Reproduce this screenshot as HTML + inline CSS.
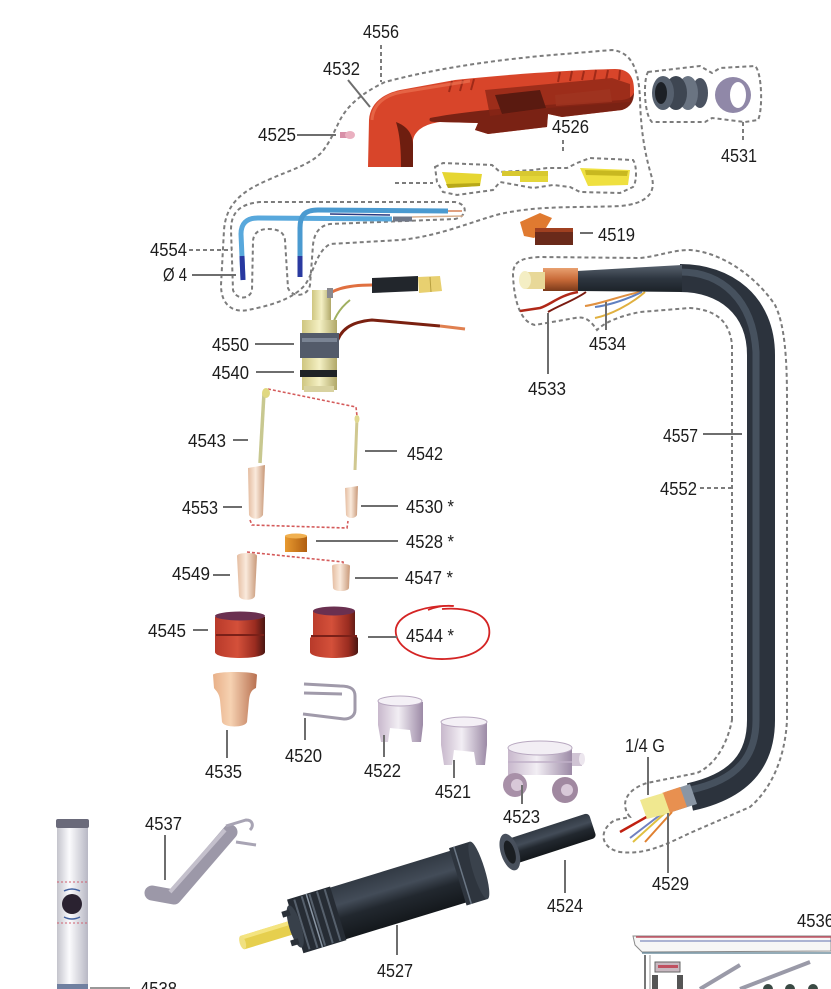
<!DOCTYPE html>
<html><head><meta charset="utf-8">
<style>
html,body{margin:0;padding:0;background:#fff;}
svg{display:block;}
text{font-family:"Liberation Sans",Arial,sans-serif;fill:#1c1c1c;font-size:18px;}
</style></head><body>
<svg width="831" height="989" viewBox="0 0 831 989" xmlns="http://www.w3.org/2000/svg">
<defs>
 <linearGradient id="nozz" x1="0" y1="0" x2="1" y2="0">
  <stop offset="0" stop-color="#b83a2a"/><stop offset="0.45" stop-color="#d4503a"/><stop offset="0.8" stop-color="#9a2c20"/><stop offset="1" stop-color="#4a1612"/>
 </linearGradient>
 <linearGradient id="beige" x1="0" y1="0" x2="1" y2="0">
  <stop offset="0" stop-color="#e4bca0"/><stop offset="0.45" stop-color="#faeadc"/><stop offset="1" stop-color="#c89878"/>
 </linearGradient>
 <linearGradient id="cone" x1="0" y1="0" x2="1" y2="0">
  <stop offset="0" stop-color="#e8b088"/><stop offset="0.4" stop-color="#f6d2b2"/><stop offset="1" stop-color="#b87050"/>
 </linearGradient>
 <linearGradient id="lav" x1="0" y1="0" x2="1" y2="0">
  <stop offset="0" stop-color="#c8b8cc"/><stop offset="0.45" stop-color="#f2eef4"/><stop offset="1" stop-color="#9c8aa6"/>
 </linearGradient>
 <linearGradient id="yel" x1="0" y1="0" x2="1" y2="0">
  <stop offset="0" stop-color="#cfc680"/><stop offset="0.5" stop-color="#f4f0c4"/><stop offset="1" stop-color="#b0a868"/>
 </linearGradient>
 <linearGradient id="copper" x1="0" y1="0" x2="0" y2="1">
  <stop offset="0" stop-color="#e8a070"/><stop offset="0.5" stop-color="#c86a38"/><stop offset="1" stop-color="#7a3a1a"/>
 </linearGradient>
 <linearGradient id="orng" x1="0" y1="0" x2="1" y2="0">
  <stop offset="0" stop-color="#e89a30"/><stop offset="1" stop-color="#b05e10"/>
 </linearGradient>
 <linearGradient id="tube" x1="0" y1="0" x2="1" y2="0">
  <stop offset="0" stop-color="#c4c4cc"/><stop offset="0.4" stop-color="#fbfbfd"/><stop offset="1" stop-color="#b8b8c4"/>
 </linearGradient>
 <linearGradient id="sleeve" x1="0" y1="0" x2="0" y2="1">
  <stop offset="0" stop-color="#58626e"/><stop offset="0.5" stop-color="#2e3640"/><stop offset="1" stop-color="#1c2228"/>
 </linearGradient>
 <linearGradient id="dark" x1="0" y1="0" x2="0" y2="1">
  <stop offset="0" stop-color="#323a44"/><stop offset="0.35" stop-color="#434c58"/><stop offset="0.6" stop-color="#22282f"/><stop offset="1" stop-color="#14181c"/>
 </linearGradient>
</defs>

<!-- ============ DASHED OUTLINES ============ -->
<g fill="none" stroke="#7c7c7c" stroke-width="2" stroke-dasharray="4 3">
 <path d="M385,82 C362,93 348,105 340,120 C334,132 330,142 322,152 C310,165 290,170 268,180 C240,192 226,205 224,230 L221,285 C221,305 233,313 248,310 C268,306 292,300 305,285 C315,270 316,252 330,244 L400,240 C440,236 470,222 500,214 C540,205 580,208 620,206 C645,204 656,194 652,178 C646,158 641,135 640,100 C639,70 632,52 612,50 L540,56 C480,62 430,70 385,82 Z"/>
 <path d="M381,45 L381,82"/>
 <path d="M312,202 L455,202 C468,204 468,216 455,219 L330,224 C318,226 314,235 313,245 L310,285 C308,297 292,298 288,288 L285,240 C284,232 278,229 268,229 C258,229 253,234 253,242 L252,290 C250,300 236,300 233,290 L231,230 C231,212 240,204 260,202 Z"/>
 <path d="M189,250 L232,250"/>
 <path d="M435,167 L443,163 L492,165 L500,172 L533,170 L547,168 L567,168 L577,163 L590,158 L633,160 C637,165 637,182 633,187 L620,193 L580,192 L570,187 L553,185 L533,188 L500,182 L493,190 L457,195 L443,192 L437,182 Z"/>
 <path d="M395,183 L433,183"/>
 <path d="M563,140 L563,153"/>
 <path d="M648,72 L700,66 L712,73 L720,68 L755,66 C762,72 763,110 758,120 L745,122 L712,118 L705,122 L652,122 C644,115 643,80 648,72 Z"/>
 <path d="M743,122 L743,140"/>
 <path d="M732,720 L732,345 C730,325 720,310 690,308 L640,312 C620,316 605,322 597,330 C590,320 585,316 575,318 L535,325 C520,322 514,300 513,275 C513,262 520,258 540,257 L640,258 C660,256 672,250 690,250 C720,252 755,275 775,305 C785,325 787,360 787,400 L787,720 C785,760 770,790 750,807 L690,833 C665,845 645,855 620,852 C600,848 598,830 615,820 L630,817 C620,805 625,790 647,783 L697,773 C715,765 727,745 732,720 Z"/>
 <path d="M700,488 L733,488"/>
</g>

<g fill="none" stroke="#d45a5a" stroke-width="1.6" stroke-dasharray="3 2">
 <path d="M268,389 L356,407 L357,416"/>
 <path d="M250,520 L252,525 L347,528 L348,521"/>
 <path d="M247,552 L343,562 L344,567"/>
</g>

<!-- ============ HANDLE 4532 ============ -->
<path d="M368,167 L369,120 C370,104 382,94 400,90 L455,80 C500,75 570,70 615,69 C630,69 634,78 634,90 C634,100 631,107 622,110 L562,117 L548,114 L547,127 L488,134 L475,130 L478,123 L440,122 C425,124 415,130 413,140 L413,167 Z" fill="#d8452a"/>
<path d="M430,118 C470,110 540,105 622,100 C630,99 633,96 634,92 C634,101 631,107 622,110 L562,117 L548,114 L547,127 L488,134 L475,130 L478,123 L440,122 C432,122 428,122 430,118 Z" fill="#6a1c10" opacity="0.85"/>
<path d="M396,122 C407,126 413,134 413,145 L413,167 L401,167 C401,150 400,135 396,122 Z" fill="#6e1e10"/>
<path d="M485,90 L612,78 L630,84 L630,102 L548,108 L490,116 Z" fill="#8a2616" opacity="0.75"/>
<path d="M495,95 L540,90 L546,108 L502,114 Z" fill="#5a1a10"/>
<path d="M555,95 L610,89 L612,102 L556,106 Z" fill="#a03420" opacity="0.8"/>
<g stroke="#a02a18" stroke-width="2">
 <line x1="452" y1="81" x2="449" y2="92"/><line x1="463" y1="80" x2="460" y2="91"/><line x1="474" y1="79" x2="471" y2="90"/>
 <line x1="560" y1="72" x2="558" y2="82"/><line x1="572" y1="71" x2="570" y2="81"/><line x1="584" y1="71" x2="582" y2="80"/><line x1="596" y1="70" x2="594" y2="80"/><line x1="608" y1="70" x2="606" y2="80"/><line x1="620" y1="70" x2="619" y2="80"/>
</g>
<path d="M372,120 C373,104 385,95 402,92 L470,81" fill="none" stroke="#f07a58" stroke-width="3" opacity="0.6"/>

<rect x="340" y="132" width="9" height="6" fill="#d890a8"/>
<ellipse cx="350" cy="135" rx="5" ry="4" fill="#eab0c0"/>

<polygon points="442,172 482,174 480,186 448,188" fill="#e6d632"/>
<polygon points="446,184 480,183 480,186 448,188" fill="#b8a818"/>
<rect x="502" y="171" width="46" height="5" fill="#d8c830"/>
<rect x="520" y="176" width="28" height="6" fill="#e4d63a"/>
<polygon points="580,168 630,170 628,185 588,186" fill="#efe040"/>
<polygon points="585,170 628,171 627,176 586,175" fill="#c8b820"/>

<ellipse cx="700" cy="93" rx="8" ry="15" fill="#4a5260"/>
<ellipse cx="688" cy="93" rx="10" ry="17" fill="#6a7482"/>
<ellipse cx="676" cy="93" rx="11" ry="17" fill="#3e4652"/>
<ellipse cx="663" cy="93" rx="11" ry="17" fill="#56606e"/>
<ellipse cx="661" cy="93" rx="6" ry="11" fill="#1c2026"/>
<ellipse cx="733" cy="95" rx="18" ry="18" fill="#9088a8"/>
<ellipse cx="738" cy="95" rx="8" ry="13" fill="#ffffff"/>

<polygon points="520,222 540,213 552,218 546,228 534,238 524,236" fill="#e07a30"/>
<rect x="535" y="228" width="38" height="17" fill="#6a2a1a"/>
<rect x="535" y="228" width="38" height="4" fill="#a04020"/>

<path d="M392,219 L258,218 C246,218 241,224 241,234 L243,280" fill="none" stroke="#58a8dc" stroke-width="5"/>
<path d="M242,256 L243,280" stroke="#2838a0" stroke-width="5"/>
<line x1="393" y1="219" x2="412" y2="219" stroke="#707888" stroke-width="5"/>
<line x1="412" y1="217" x2="463" y2="216" stroke="#d8b090" stroke-width="1.5"/>
<path d="M448,211 L318,210 C304,210 300,216 300,228 L300,277" fill="none" stroke="#4a9ad0" stroke-width="5"/>
<path d="M300,256 L300,277" stroke="#2a3aa0" stroke-width="5"/>
<line x1="330" y1="214" x2="390" y2="215" stroke="#2a3a80" stroke-width="1.5"/>
<line x1="448" y1="211" x2="462" y2="211" stroke="#e0a080" stroke-width="2"/>

<path d="M322,300 C330,290 345,285 372,285" fill="none" stroke="#e07040" stroke-width="3"/>
<polygon points="372,278 418,276 418,291 372,293" fill="#22262c"/>
<polygon points="418,277 440,276 442,291 419,293" fill="#e8d070"/>
<line x1="430" y1="277" x2="431" y2="292" stroke="#b8a040" stroke-width="1"/>
<path d="M336,345 C340,330 350,322 372,320 L440,326" fill="none" stroke="#7a2010" stroke-width="3"/>
<line x1="440" y1="326" x2="465" y2="329" stroke="#e08050" stroke-width="3"/>
<path d="M331,332 C333,318 340,308 350,300" fill="none" stroke="#a0b060" stroke-width="2"/>
<rect x="312" y="290" width="19" height="32" fill="url(#yel)"/>
<rect x="327" y="288" width="6" height="10" fill="#8a8a90"/>
<rect x="302" y="320" width="35" height="70" fill="url(#yel)"/>
<rect x="300" y="333" width="39" height="25" fill="#535b6a"/>
<rect x="302" y="338" width="35" height="4" fill="#7a8494"/>
<rect x="300" y="370" width="37" height="7" fill="#1e2226"/>
<rect x="304" y="386" width="30" height="6" fill="#d8d2a0"/>

<line x1="264" y1="393" x2="260" y2="463" stroke="#c8c890" stroke-width="3.5"/>
<ellipse cx="266" cy="393" rx="4" ry="5" fill="#e0d880"/>
<line x1="357" y1="418" x2="355" y2="470" stroke="#d0c890" stroke-width="3"/>
<ellipse cx="357" cy="419" rx="2.5" ry="4" fill="#e0d890"/>

<path d="M248,468 L265,465 L263,515 C260,520 252,520 249,515 Z" fill="url(#beige)"/>
<path d="M345,488 L358,486 L357,515 C355,519 348,519 346,515 Z" fill="url(#beige)"/>
<rect x="285" y="536" width="22" height="16" fill="url(#orng)"/>
<ellipse cx="296" cy="536" rx="11" ry="2.5" fill="#f0b050"/>
<path d="M237,556 C237,552 257,552 257,556 L255,596 C254,601 240,601 239,596 Z" fill="url(#beige)"/>
<path d="M332,566 C332,563 350,563 350,566 L349,588 C348,592 334,592 333,588 Z" fill="url(#beige)"/>

<path d="M215,617 L215,652 C215,660 265,660 265,652 L265,617 Z" fill="url(#nozz)"/>
<ellipse cx="240" cy="616" rx="25" ry="4.5" fill="#6a3050"/>
<line x1="216" y1="635" x2="264" y2="635" stroke="#7a2018" stroke-width="2"/>
<path d="M313,611 L313,635 L310,638 L310,652 C310,660 358,660 358,652 L358,638 L355,635 L355,611 Z" fill="url(#nozz)"/>
<ellipse cx="334" cy="611" rx="21" ry="4.5" fill="#6a3050"/>
<line x1="311" y1="636" x2="357" y2="636" stroke="#7a2018" stroke-width="2"/>

<path d="M453,606 C430,605 400,612 396,628 C393,645 415,660 445,659 C475,658 492,645 489,628 C486,613 466,607 442,609" fill="none" stroke="#d42424" stroke-width="1.8"/>
<path d="M428,610 C438,606 446,605 454,606" fill="none" stroke="#d42424" stroke-width="1.6"/>

<path d="M213,675 C213,671 257,671 257,675 L256,688 C252,690 250,692 249,700 L247,722 C245,728 224,728 222,722 L220,700 C219,692 215,690 214,688 Z" fill="url(#cone)"/>

<g fill="none" stroke="#a09aaa" stroke-width="3">
 <path d="M304,684 L340,686 C352,686 355,690 355,696 L355,710 C355,716 350,719 344,719 L303,714"/>
 <path d="M304,693 L342,694"/>
</g>

<path d="M378,702 L378,725 L381,742 L388,742 L390,728 L410,730 L412,742 L421,742 L423,725 L423,702 Z" fill="url(#lav)"/>
<ellipse cx="400" cy="701" rx="22" ry="5" fill="#f4f0f6" stroke="#b8a8c0"/>
<path d="M441,722 L441,745 L444,765 L452,765 L454,750 L474,752 L476,765 L485,765 L487,745 L487,722 Z" fill="url(#lav)"/>
<ellipse cx="464" cy="722" rx="23" ry="5" fill="#f4f0f6" stroke="#b8a8c0"/>
<path d="M508,748 L508,775 L572,775 L572,748 Z" fill="url(#lav)"/>
<ellipse cx="540" cy="748" rx="32" ry="7" fill="#f2eef4" stroke="#b8a8c0"/>
<line x1="508" y1="762" x2="572" y2="762" stroke="#c0b0c8" stroke-width="1.5"/>
<circle cx="515" cy="785" r="12" fill="#a890a8"/><circle cx="517" cy="785" r="6" fill="#d8c8d8"/>
<circle cx="565" cy="790" r="13" fill="#a088a0"/><circle cx="567" cy="790" r="6" fill="#d8c8d8"/>
<rect x="572" y="753" width="10" height="13" fill="#d0c4d4"/>
<ellipse cx="582" cy="759" rx="3" ry="6" fill="#ece6ee"/>

<!-- CABLE -->
<path d="M680,278 C725,278 761,305 761,355 L761,720 C761,760 740,786 690,797" fill="none" stroke="#2c333d" stroke-width="28"/>
<path d="M680,272 C722,272 753,300 756,352 L756,720 C756,756 738,780 690,790" fill="none" stroke="#4e5966" stroke-width="7" opacity="0.8"/>
<path d="M578,292 C560,295 550,305 540,308 L520,311" fill="none" stroke="#b02818" stroke-width="2.5"/>
<path d="M586,292 C575,300 560,305 548,312" fill="none" stroke="#7a1a10" stroke-width="2"/>
<path d="M640,292 C620,296 600,304 585,306" fill="none" stroke="#e09040" stroke-width="2"/>
<path d="M642,292 C625,300 610,305 595,307" fill="none" stroke="#6080c0" stroke-width="2"/>
<path d="M645,292 C630,305 610,315 595,318" fill="none" stroke="#e0b040" stroke-width="2"/>
<polygon points="577,271 682,265 682,292 577,291" fill="url(#sleeve)"/>
<rect x="543" y="268" width="35" height="23" fill="url(#copper)"/>
<rect x="525" y="272" width="20" height="17" fill="#e8d898"/>
<ellipse cx="525" cy="280" rx="6" ry="9" fill="#f4eec4"/>
<path d="M650,815 L620,832" stroke="#c02010" stroke-width="2.5"/>
<path d="M660,815 L630,838" stroke="#7080c0" stroke-width="2"/>
<path d="M665,813 L633,842" stroke="#e0c040" stroke-width="2"/>
<path d="M672,812 L645,842" stroke="#e08030" stroke-width="2"/>
<polygon points="665,792 690,784 697,804 672,812" fill="#8a96a4"/>
<polygon points="662,793 680,787 687,807 669,813" fill="#e89050"/>
<polygon points="640,800 663,793 670,813 647,819" fill="#f0e890"/>

<!-- 4524 -->
<g transform="translate(507,853) rotate(-18)">
 <rect x="4" y="-13" width="86" height="26" rx="4" fill="url(#dark)"/>
 <ellipse cx="3" cy="0" rx="9" ry="19" fill="#48505c"/>
 <ellipse cx="3" cy="0" rx="5" ry="12" fill="#1a1e22"/>
</g>

<!-- 4527 -->
<g transform="translate(300,925) rotate(-17)">
 <rect x="-60" y="-7" width="62" height="14" fill="#e6cf4e"/>
 <rect x="-60" y="-7" width="62" height="4" fill="#f4e480"/>
 <ellipse cx="-60" cy="0" rx="3" ry="7" fill="#f0e080"/>
 <rect x="38" y="-27" width="142" height="54" fill="url(#dark)"/>
 <rect x="-5" y="-28" width="45" height="56" fill="#262c34"/>
 <g stroke="#56606c" stroke-width="2">
  <line x1="2" y1="-26" x2="2" y2="26"/><line x1="10" y1="-27" x2="10" y2="27"/><line x1="18" y1="-27" x2="18" y2="27"/><line x1="26" y1="-27" x2="26" y2="27"/><line x1="34" y1="-27" x2="34" y2="27"/>
 </g>
 <line x1="15" y1="-28" x2="15" y2="28" stroke="#8a96a4" stroke-width="1.5"/>
 <ellipse cx="-5" cy="0" rx="6" ry="22" fill="#38404a"/>
 <rect x="-14" y="-18" width="8" height="6" fill="#2a3038"/>
 <rect x="-14" y="12" width="8" height="6" fill="#2a3038"/>
 <rect x="165" y="-30" width="22" height="60" fill="#2e353e"/>
 <line x1="170" y1="-30" x2="170" y2="30" stroke="#6a7684" stroke-width="1.5"/>
 <ellipse cx="187" cy="0" rx="6" ry="30" fill="#3a424c"/>
</g>

<!-- 4537 -->
<path d="M152,893 L174,897 L230,832" fill="none" stroke="#9c98a8" stroke-width="15" stroke-linejoin="round" stroke-linecap="round"/>
<path d="M170,892 L225,830" fill="none" stroke="#c4c0cc" stroke-width="4"/>
<path d="M226,826 L246,820 C253,820 254,826 250,830" fill="none" stroke="#a8a4b4" stroke-width="3"/>
<path d="M236,842 L256,845" fill="none" stroke="#a8a4b4" stroke-width="3"/>

<!-- left tube -->
<rect x="57" y="826" width="31" height="163" fill="url(#tube)"/>
<rect x="56" y="819" width="33" height="9" rx="2" fill="#6a6a7a"/>
<line x1="57" y1="882" x2="88" y2="882" stroke="#d06070" stroke-width="1" stroke-dasharray="2 2"/>
<line x1="57" y1="923" x2="88" y2="923" stroke="#d06070" stroke-width="1" stroke-dasharray="2 2"/>
<circle cx="72" cy="904" r="10" fill="#2a2230"/>
<path d="M64,891 Q72,887 80,891" fill="none" stroke="#4060a0" stroke-width="1.5"/>
<path d="M64,917 Q72,921 80,917" fill="none" stroke="#4060a0" stroke-width="1.5"/>
<rect x="57" y="984" width="31" height="5" fill="#7080a0"/>
<line x1="90" y1="988" x2="130" y2="988" stroke="#777" stroke-width="1.5"/>

<!-- 4536 box -->
<polygon points="633,936 831,936 831,951 642,952 635,945" fill="#f6f6f6" stroke="#8a8a8a" stroke-width="1"/>
<line x1="636" y1="937" x2="831" y2="937" stroke="#c05060" stroke-width="1.5"/>
<line x1="640" y1="941" x2="831" y2="941" stroke="#6070b0" stroke-width="1"/>
<line x1="642" y1="953" x2="831" y2="953" stroke="#7090a0" stroke-width="1.5"/>
<line x1="645" y1="955" x2="645" y2="989" stroke="#777" stroke-width="2"/>
<line x1="650" y1="955" x2="650" y2="989" stroke="#999" stroke-width="1"/>
<rect x="655" y="962" width="25" height="10" fill="#c8b8c0" stroke="#666"/>
<rect x="658" y="965" width="20" height="3" fill="#c05060"/>
<rect x="652" y="975" width="6" height="14" fill="#555"/>
<rect x="677" y="975" width="6" height="14" fill="#555"/>
<line x1="700" y1="989" x2="740" y2="965" stroke="#9a9aa8" stroke-width="4"/>
<line x1="740" y1="989" x2="810" y2="962" stroke="#9a9aa8" stroke-width="4"/>
<circle cx="768" cy="989" r="5" fill="#3a4a44"/>
<circle cx="790" cy="989" r="5" fill="#3a4a44"/>
<circle cx="813" cy="989" r="5" fill="#3a4a44"/>

<!-- LEADERS -->
<g stroke="#6e6e6e" stroke-width="2">
 <line x1="348" y1="80" x2="370" y2="107"/>
 <line x1="297" y1="135" x2="336" y2="135"/>
 <line x1="580" y1="233" x2="593" y2="233"/>
 <line x1="192" y1="275" x2="236" y2="275"/>
 <line x1="255" y1="344" x2="294" y2="344"/>
 <line x1="256" y1="372" x2="294" y2="372"/>
 <line x1="548" y1="313" x2="548" y2="374"/>
 <line x1="606" y1="302" x2="606" y2="330"/>
 <line x1="703" y1="434" x2="742" y2="434"/>
 <line x1="233" y1="440" x2="248" y2="440"/>
 <line x1="365" y1="451" x2="397" y2="451"/>
 <line x1="223" y1="507" x2="242" y2="507"/>
 <line x1="361" y1="506" x2="398" y2="506"/>
 <line x1="316" y1="541" x2="398" y2="541"/>
 <line x1="213" y1="575" x2="230" y2="575"/>
 <line x1="355" y1="578" x2="398" y2="578"/>
 <line x1="193" y1="630" x2="208" y2="630"/>
 <line x1="368" y1="637" x2="397" y2="637"/>
 <line x1="227" y1="730" x2="227" y2="758"/>
 <line x1="305" y1="718" x2="305" y2="740"/>
 <line x1="384" y1="735" x2="384" y2="757"/>
 <line x1="454" y1="760" x2="454" y2="778"/>
 <line x1="522" y1="785" x2="522" y2="804"/>
 <line x1="648" y1="757" x2="648" y2="795"/>
 <line x1="668" y1="813" x2="668" y2="873"/>
 <line x1="565" y1="860" x2="565" y2="893"/>
 <line x1="165" y1="835" x2="165" y2="880"/>
 <line x1="397" y1="925" x2="397" y2="955"/>
</g>

<!-- LABELS -->
<g>
 <text x="363" y="38" font-size="17" textLength="36" lengthAdjust="spacingAndGlyphs">4556</text>
 <text x="323" y="75" font-size="17" textLength="37" lengthAdjust="spacingAndGlyphs">4532</text>
 <text x="258" y="141" textLength="38" lengthAdjust="spacingAndGlyphs">4525</text>
 <text x="552" y="133" font-size="17" textLength="37" lengthAdjust="spacingAndGlyphs">4526</text>
 <text x="721" y="162" textLength="36" lengthAdjust="spacingAndGlyphs">4531</text>
 <text x="598" y="241" textLength="37" lengthAdjust="spacingAndGlyphs">4519</text>
 <text x="150" y="256" textLength="37" lengthAdjust="spacingAndGlyphs">4554</text>
 <text x="163" y="281" textLength="24" lengthAdjust="spacingAndGlyphs">Ø 4</text>
 <text x="212" y="351" textLength="37" lengthAdjust="spacingAndGlyphs">4550</text>
 <text x="212" y="379" textLength="37" lengthAdjust="spacingAndGlyphs">4540</text>
 <text x="528" y="395" textLength="38" lengthAdjust="spacingAndGlyphs">4533</text>
 <text x="589" y="350" textLength="37" lengthAdjust="spacingAndGlyphs">4534</text>
 <text x="663" y="442" textLength="35" lengthAdjust="spacingAndGlyphs">4557</text>
 <text x="660" y="495" textLength="37" lengthAdjust="spacingAndGlyphs">4552</text>
 <text x="188" y="447" textLength="38" lengthAdjust="spacingAndGlyphs">4543</text>
 <text x="407" y="460" textLength="36" lengthAdjust="spacingAndGlyphs">4542</text>
 <text x="182" y="514" textLength="36" lengthAdjust="spacingAndGlyphs">4553</text>
 <text x="406" y="513" textLength="48" lengthAdjust="spacingAndGlyphs">4530 *</text>
 <text x="406" y="548" textLength="48" lengthAdjust="spacingAndGlyphs">4528 *</text>
 <text x="172" y="580" textLength="38" lengthAdjust="spacingAndGlyphs">4549</text>
 <text x="405" y="584" textLength="48" lengthAdjust="spacingAndGlyphs">4547 *</text>
 <text x="148" y="637" textLength="38" lengthAdjust="spacingAndGlyphs">4545</text>
 <text x="406" y="642" textLength="48" lengthAdjust="spacingAndGlyphs">4544 *</text>
 <text x="205" y="778" textLength="37" lengthAdjust="spacingAndGlyphs">4535</text>
 <text x="285" y="762" textLength="37" lengthAdjust="spacingAndGlyphs">4520</text>
 <text x="364" y="777" textLength="37" lengthAdjust="spacingAndGlyphs">4522</text>
 <text x="435" y="798" textLength="36" lengthAdjust="spacingAndGlyphs">4521</text>
 <text x="503" y="823" textLength="37" lengthAdjust="spacingAndGlyphs">4523</text>
 <text x="625" y="752" textLength="40" lengthAdjust="spacingAndGlyphs">1/4 G</text>
 <text x="652" y="890" textLength="37" lengthAdjust="spacingAndGlyphs">4529</text>
 <text x="547" y="912" textLength="36" lengthAdjust="spacingAndGlyphs">4524</text>
 <text x="145" y="830" textLength="37" lengthAdjust="spacingAndGlyphs">4537</text>
 <text x="377" y="977" textLength="36" lengthAdjust="spacingAndGlyphs">4527</text>
 <text x="797" y="927" textLength="37" lengthAdjust="spacingAndGlyphs">4536</text>
 <text x="140" y="995" textLength="37" lengthAdjust="spacingAndGlyphs">4538</text>
</g>
</svg>
</body></html>
